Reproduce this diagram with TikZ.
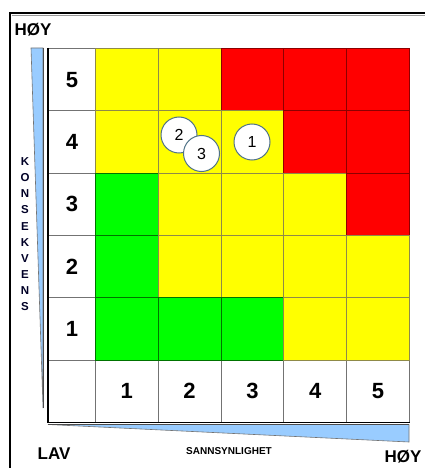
\documentclass[tikz,border=0pt]{standalone}
\usepackage{fontspec}
\setmainfont{Liberation Sans}
\definecolor{riskred}{RGB}{255,0,0}
\definecolor{riskyellow}{RGB}{255,255,0}
\definecolor{riskgreen}{RGB}{0,255,0}
\definecolor{wedgeblue}{RGB}{153,204,255}
\definecolor{ringblue}{RGB}{80,115,135}

\begin{document}
\begin{tikzpicture}[x=1pt, y=-1pt,
    cell/.style={anchor=north west, inner sep=0pt, minimum width=62.8pt, minimum height=62.3pt, line width=0.8pt},
    cellR/.style={cell, fill=riskred, draw=red!55!black},
    cellY/.style={cell, fill=riskyellow, draw=yellow!50!black},
    cellG/.style={cell, fill=riskgreen, draw=green!45!black},
    labelcell/.style={cell, fill=white, draw=black!55, font=\bfseries\fontsize{22}{22}\selectfont},
    riskmark/.style={circle, minimum size=36pt, inner sep=0pt, fill=white, draw=ringblue, line width=1pt, font=\fontsize{16}{16}\selectfont},
    axislabel/.style={font=\bfseries\fontsize{17}{17}\selectfont}]
    \useasboundingbox (0,0) rectangle (425,468);

    % Frame
    \draw[black!40, line width=1pt] (12,15.5) -- (425,15.5);
    \draw[line width=1.6pt] (10,468) -- (10,13) -- (425,13);

    % Consequence labels (left column)
    \foreach \r [count=\i] in {5,4,3,2,1}
        \node[labelcell, minimum width=47pt] (k\r) at (48,{48+62.3*(\i-1)}) {\r};
    \node[labelcell, minimum width=47pt] (corner) at (48,359.5) {};

    % Probability labels (bottom row)
    \foreach \c in {1,...,5}
        \node[labelcell] (s\c) at ({95+62.8*(\c-1)},359.5) {\c};

    % Risk cells
    \foreach \r/\cols [count=\i] in {5/{Y,Y,R,R,R}, 4/{Y,Y,Y,R,R}, 3/{G,Y,Y,Y,R}, 2/{G,Y,Y,Y,Y}, 1/{G,G,G,Y,Y}}
        \foreach \c [count=\j] in \cols
            \node[cell\c] (c\r\j) at ({95+62.8*(\j-1)},{48+62.3*(\i-1)}) {};

    % Outer edge of the grid
    \draw[line width=1.2pt] (k5.north west) -- (corner.south west) -- (s5.south east);

    % Consequence wedge
    \filldraw[fill=wedgeblue, draw=black!55, line width=0.6pt] (31,48) -- (43,48) -- (43,408) -- cycle;
    \draw[black!70, line width=0.8pt] (43,48) -- (43,408);

    % Probability wedge
    \filldraw[fill=wedgeblue, draw=black!55, line width=0.6pt] (48,424.5) -- (409,424.5) -- (409,442) -- cycle;
    \draw[black!70, line width=1.2pt] (48,424.5) -- (409,424.5);

    % Axis texts
    \node[axislabel] (hoyk) at (33,30) {HØY};
    \node[axislabel] (lav) at (54,454) {LAV};
    \node[axislabel] (hoys) at (403,457) {HØY};
    \node[font=\bfseries\fontsize{10}{10}\selectfont] (sann) at (229,451) {SANNSYNLIGHET};
    \foreach \l [count=\n] in {K,O,N,S,E,K,V,E,N,S}
        \node[font=\bfseries\fontsize{11.5}{11.5}\selectfont, text=black!85!blue, inner sep=0pt] (kons\n) at (25,{161.7+16.1*(\n-1)}) {\l};

    % Risk markers
    \node[riskmark] (risk2) at (179,135) {2};
    \node[riskmark] (risk3) at (201.5,153.5) {3};
    \node[riskmark] (risk1) at (252,142) {1};
\end{tikzpicture}
\end{document}
